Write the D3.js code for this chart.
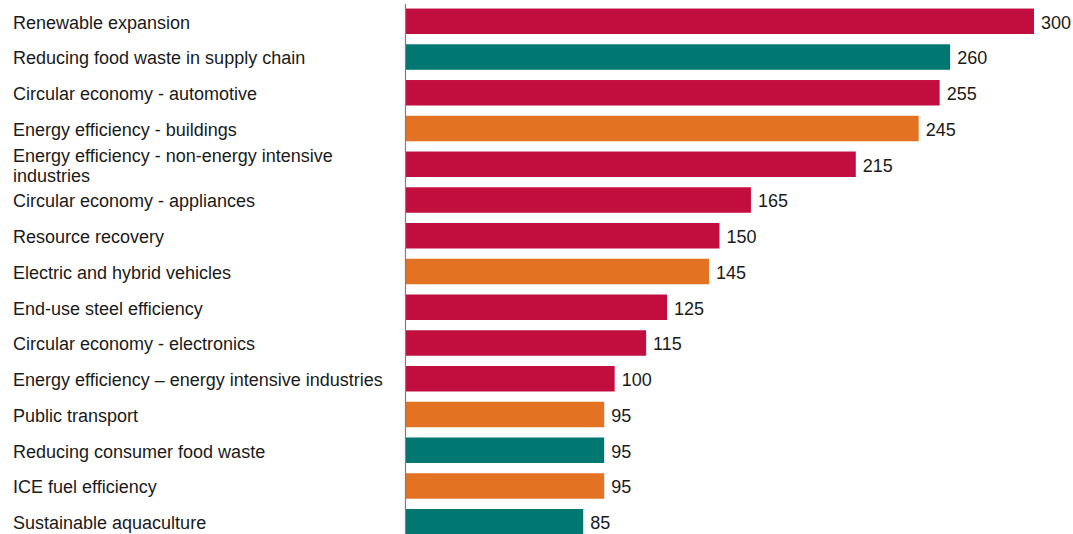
<!DOCTYPE html>
<html>
<head>
<meta charset="utf-8">
<script src="https://cdn.jsdelivr.net/npm/d3@7"></script>
<style>
  html, body { margin: 0; padding: 0; background: #fff; }
  svg { display: block; font-family: "Liberation Sans", Arial, sans-serif; }
</style>
</head>
<body>
<svg id="chart" width="1073" height="534"></svg>
<script>
// Opportunity areas, ranked by value
const categories = [
  "Renewable expansion",
  "Reducing food waste in supply chain",
  "Circular economy - automotive",
  "Energy efficiency - buildings",
  "Energy efficiency - non-energy intensive\nindustries",
  "Circular economy - appliances",
  "Resource recovery",
  "Electric and hybrid vehicles",
  "End-use steel efficiency",
  "Circular economy - electronics",
  "Energy efficiency \u2013 energy intensive industries",
  "Public transport",
  "Reducing consumer food waste",
  "ICE fuel efficiency",
  "Sustainable aquaculture"
];
const values = [300, 260, 255, 245, 215, 165, 150, 145, 125, 115, 100, 95, 95, 95, 85];
// Sector group of each category
const groups = [
  "Energy & materials", "Food", "Energy & materials", "Transport & buildings",
  "Energy & materials", "Energy & materials", "Energy & materials", "Transport & buildings",
  "Energy & materials", "Energy & materials", "Energy & materials", "Transport & buildings",
  "Food", "Transport & buildings", "Food"
];
const groupNames = ["Energy & materials", "Food", "Transport & buildings"];
const groupColors = ["#C20E3F", "#007770", "#E37222"];

const svg = d3.select("#chart");
const color = d3.scaleOrdinal().domain(groupNames).range(groupColors);

const x = d3.scaleLinear().domain([0, 300]).range([405, 1034]);
const y = d3.scaleBand()
  .domain(categories)
  .range([3.4, 539.6])
  .paddingInner(0.287)
  .paddingOuter(0.1435);

const rows = categories.map((c, i) => ({ cat: c, value: values[i], group: groups[i] }));

// Bars
svg.append("g")
  .selectAll("rect")
  .data(rows)
  .join("rect")
  .attr("x", x(0))
  .attr("y", d => y(d.cat))
  .attr("width", d => x(d.value) - x(0))
  .attr("height", y.bandwidth())
  .attr("fill", d => color(d.group));

// Vertical axis line
const axis = svg.append("g")
  .attr("transform", `translate(${x(0)},0)`)
  .call(d3.axisLeft(y).tickSize(0).tickFormat(""));
axis.select(".domain").attr("stroke", "#7f7f7f").attr("stroke-width", 1.2);

// Category labels (left aligned, multi-line where needed)
const lineH = 20;
svg.append("g")
  .selectAll("text")
  .data(rows)
  .join("text")
  .attr("x", 13)
  .attr("font-size", 18)
  .attr("fill", "#1a1a1a")
  .each(function(d) {
    const lines = d.cat.split("\n");
    const cy = y(d.cat) + y.bandwidth() / 2 + 1;
    const t = d3.select(this);
    lines.forEach((ln, k) => {
      t.append("tspan")
        .attr("x", 13)
        .attr("y", cy + (k - (lines.length - 1) / 2) * lineH)
        .attr("dy", "0.35em")
        .text(ln);
    });
  });

// Value labels
svg.append("g")
  .selectAll("text")
  .data(rows)
  .join("text")
  .attr("x", d => x(d.value) + 7)
  .attr("y", d => y(d.cat) + y.bandwidth() / 2 + 1)
  .attr("dy", "0.35em")
  .attr("font-size", 18)
  .attr("fill", "#1a1a1a")
  .text(d => d.value);
</script>
</body>
</html>
